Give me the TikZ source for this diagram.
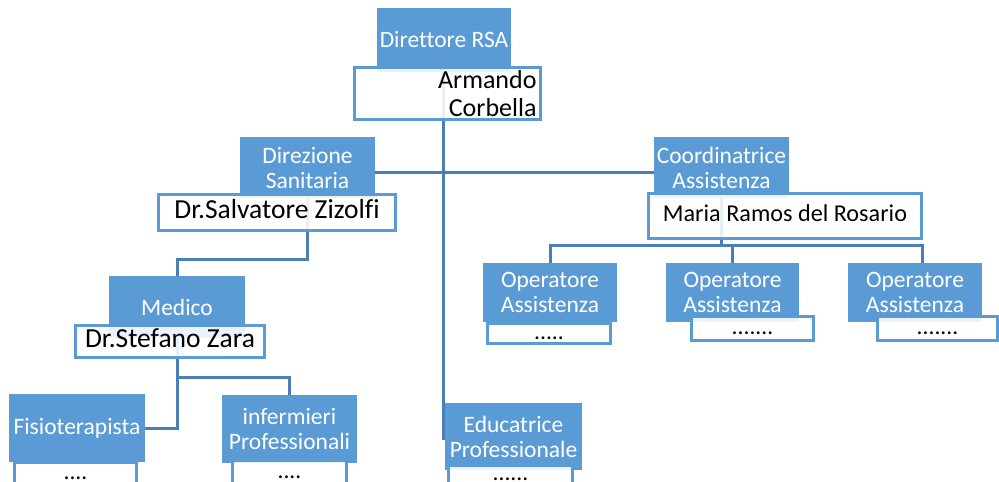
\documentclass[tikz,border=0pt]{standalone}
\usepackage{fontspec}
\setmainfont{Carlito}[Ligatures=NoCommon]
\usepackage{tikz}
\definecolor{boxblue}{RGB}{91,155,213}
\definecolor{lineblue}{RGB}{74,126,180}
\pgfdeclarelayer{bg}
\pgfsetlayers{bg,main}
\tikzstyle{role}=[fill=boxblue, text=white, inner sep=0pt, align=center, font=\fontsize{23.5}{25}\selectfont]
\tikzstyle{person}=[draw=boxblue, line width=3pt, fill=white, fill opacity=0.88, text opacity=1, inner sep=0pt, font=\fontsize{23.5}{28}\selectfont]
\tikzstyle{oneline}=[person, text height=12pt, text depth=0.3pt]
\tikzstyle{link}=[draw=lineblue, line width=3pt]

\begin{document}
\begin{tikzpicture}[x=1pt, y=-1pt]
        \useasboundingbox (0, 0) rectangle (999, 482);
        \node[role, minimum width=134pt, minimum height=64pt] (Dir) at (444, 40) {Direttore RSA};
        \node[person, minimum width=186pt, minimum height=52pt, text width=178pt, align=right, font=\fontsize{26}{28}\selectfont] (DirName) at (447.5, 93.5) {Armando\\Corbella};
        \node[role, minimum width=135pt, minimum height=61pt] (DirSan) at (307.5, 167.5) {Direzione\\Sanitaria};
        \node[oneline, minimum width=237pt, minimum height=36pt, font=\fontsize{27.5}{28}\selectfont] (DirSanName) at (277, 212.5) {Dr.Salvatore Zizolfi};
        \node[role, minimum width=135pt, minimum height=61pt] (Coord) at (721.5, 167.5) {Coordinatrice\\Assistenza};
        \node[oneline, minimum width=273pt, minimum height=45pt, font=\fontsize{24.2}{28}\selectfont] (CoordName) at (785, 216) {Maria Ramos del Rosario};
        \node[role, minimum width=136pt, minimum height=62pt] (Med) at (177, 307) {Medico};
        \node[oneline, minimum width=189pt, minimum height=32pt, font=\fontsize{27.5}{28}\selectfont] (MedName) at (170, 341.5) {Dr.Stefano Zara};
        \node[role, minimum width=134pt, minimum height=59pt] (Op1) at (550, 292.5) {Operatore\\Assistenza};
        \node[oneline, minimum width=123pt, minimum height=20pt] (Op1Name) at (549, 333.5) {.....};
        \node[role, minimum width=133pt, minimum height=59pt] (Op2) at (732.5, 292.5) {Operatore\\Assistenza};
        \node[oneline, minimum width=122pt, minimum height=24pt] (Op2Name) at (752.5, 328.5) {.......};
        \node[role, minimum width=134pt, minimum height=59pt] (Op3) at (915, 292.5) {Operatore\\Assistenza};
        \node[oneline, minimum width=120pt, minimum height=24pt] (Op3Name) at (937.5, 328.5) {.......};
        \node[role, minimum width=136pt, minimum height=68pt] (Fisio) at (77, 428) {Fisioterapista};
        \node[oneline, minimum width=122pt, minimum height=23pt] (FisioName) at (75.5, 474) {....};
        \node[role, minimum width=135pt, minimum height=68pt] (Inf) at (289.5, 429) {infermieri\\Professionali};
        \node[oneline, minimum width=114pt, minimum height=25pt] (InfName) at (289.5, 473) {....};
        \node[role, minimum width=137pt, minimum height=67pt] (Educ) at (513.5, 436.5) {Educatrice\\Professionale};
        \node[oneline, minimum width=124pt, minimum height=20pt] (EducName) at (510.5, 475) {......};
        \begin{pgfonlayer}{bg}
            \coordinate (MainEnd) at (443, 440);
            \coordinate (SanFork) at (307.5, 259);
            \coordinate (MedFork) at (177, 377);
            \coordinate (OpFork) at (721.5, 245);
            \draw[link] (Dir.center -| MainEnd) -- (MainEnd);
            \draw[link] ([yshift=-4.5pt]DirSan.east) -- ([yshift=-4.5pt]DirSan.east -| Coord.west);
            \draw[link] (DirSan) -- (SanFork) -| (Med.north);
            \draw[link] (Med) |- (Fisio.east);
            \draw[link] (MedFork) -| (Inf.north);
            \draw[link] (Coord) -- (OpFork);
            \draw[link] (Op1.north) |- (OpFork) -| ([xshift=7pt]Op3.north);
            \draw[link] (OpFork -| Op2.north) -- (Op2.north);
        \end{pgfonlayer}
    \end{tikzpicture}
\end{document}
